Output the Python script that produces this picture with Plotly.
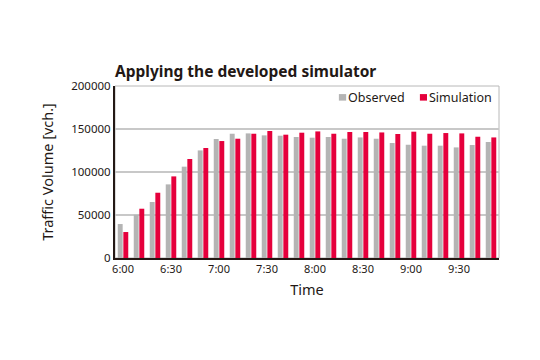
import plotly.graph_objects as go

times = ["6:00", "6:10", "6:20", "6:30", "6:40", "6:50", "7:00", "7:10", "7:20", "7:30",
         "7:40", "7:50", "8:00", "8:10", "8:20", "8:30", "8:40", "8:50", "9:00", "9:10",
         "9:20", "9:30", "9:40", "9:50"]
observed = [39500, 50300, 65100, 85600, 106200, 125100, 138400, 144500, 144900, 142600,
            142200, 140700, 139900, 140700, 138700, 140200, 138700, 133700, 131700, 130600,
            130600, 128600, 131400, 134900]
simulation = [30200, 57300, 75900, 94900, 115100, 127900, 136000, 138700, 144500, 147700,
              143400, 145700, 147200, 144500, 146500, 146500, 146000, 144200, 146900, 144500,
              145300, 144900, 141000, 140200]
tick_labels = ["6:00", "6:30", "7:00", "7:30", "8:00", "8:30", "9:00", "9:30"]
y_ticks = [0, 50000, 100000, 150000, 200000]
series_names = ["Observed", "Simulation"]
series_colors = ["#b4b4b4", "#e5003c"]

font = "Noto Sans"
fig = go.Figure()
fig.add_bar(x=times, y=observed, name=series_names[0],
            marker=dict(color=series_colors[0], line_width=0), showlegend=False)
fig.add_bar(x=times, y=simulation, name=series_names[1],
            marker=dict(color=series_colors[1], line_width=0), showlegend=False)

# manual legend (squares + labels) inside the plot area, top-right
legend_pos = [(0.583, 0.602, 0.607), (0.794, 0.8125, 0.818)]
shapes = [dict(type="rect", xref="paper", yref="paper", x0=0, x1=1, y0=0, y1=1,
               line=dict(color="#b8b8b8", width=1), layer="below")]
annotations = []
for (sx0, sx1, tx), name, col in zip(legend_pos, series_names, series_colors):
    shapes.append(dict(type="rect", xref="paper", yref="paper", x0=sx0, x1=sx1,
                       y0=0.915, y1=0.953, line_width=0, fillcolor=col))
    annotations.append(dict(text=name, xref="paper", yref="paper", x=tx, y=0.934,
                            xanchor="left", yanchor="middle", showarrow=False,
                            xshift=-2, font=dict(size=12.5, family=font, color="#231815")))

# page body has an 8px margin; offsets below compensate
fig.update_layout(
    width=540, height=360,
    margin=dict(l=107, r=49, t=78, b=110),
    paper_bgcolor="white", plot_bgcolor="white",
    barmode="group", bargap=0.3, bargroupgap=0.12,
    font=dict(family=font, color="#231815", size=11),
    title=dict(text="<b>Applying the developed simulator</b>", x=107 / 540, xref="container",
               xanchor="left", y=1 - 64 / 360, yref="container", yanchor="middle",
               font=dict(family=font, size=15.5, color="#231815")),
    showlegend=False,
    shapes=shapes,
    annotations=annotations,
)
fig.update_xaxes(
    type="category", tickmode="array", tickvals=tick_labels, ticktext=tick_labels,
    showline=True, linecolor="#231815", linewidth=2, ticks="", showgrid=False,
    automargin=False,
    title=dict(text="Time", font=dict(size=14.5), standoff=10),
    tickfont=dict(size=11),
)
fig.update_yaxes(
    range=[0, 200000], tickmode="array", tickvals=y_ticks, ticktext=[str(v) for v in y_ticks],
    showline=True, linecolor="#231815", linewidth=2, ticks="",
    showgrid=True, gridcolor="#c8c8c8", gridwidth=1.5, zeroline=False,
    automargin=False,
    title=dict(text="Traffic Volume [vch.]", font=dict(size=14.5), standoff=14),
    tickfont=dict(size=11.5),
)
fig.write_html("out.html")
